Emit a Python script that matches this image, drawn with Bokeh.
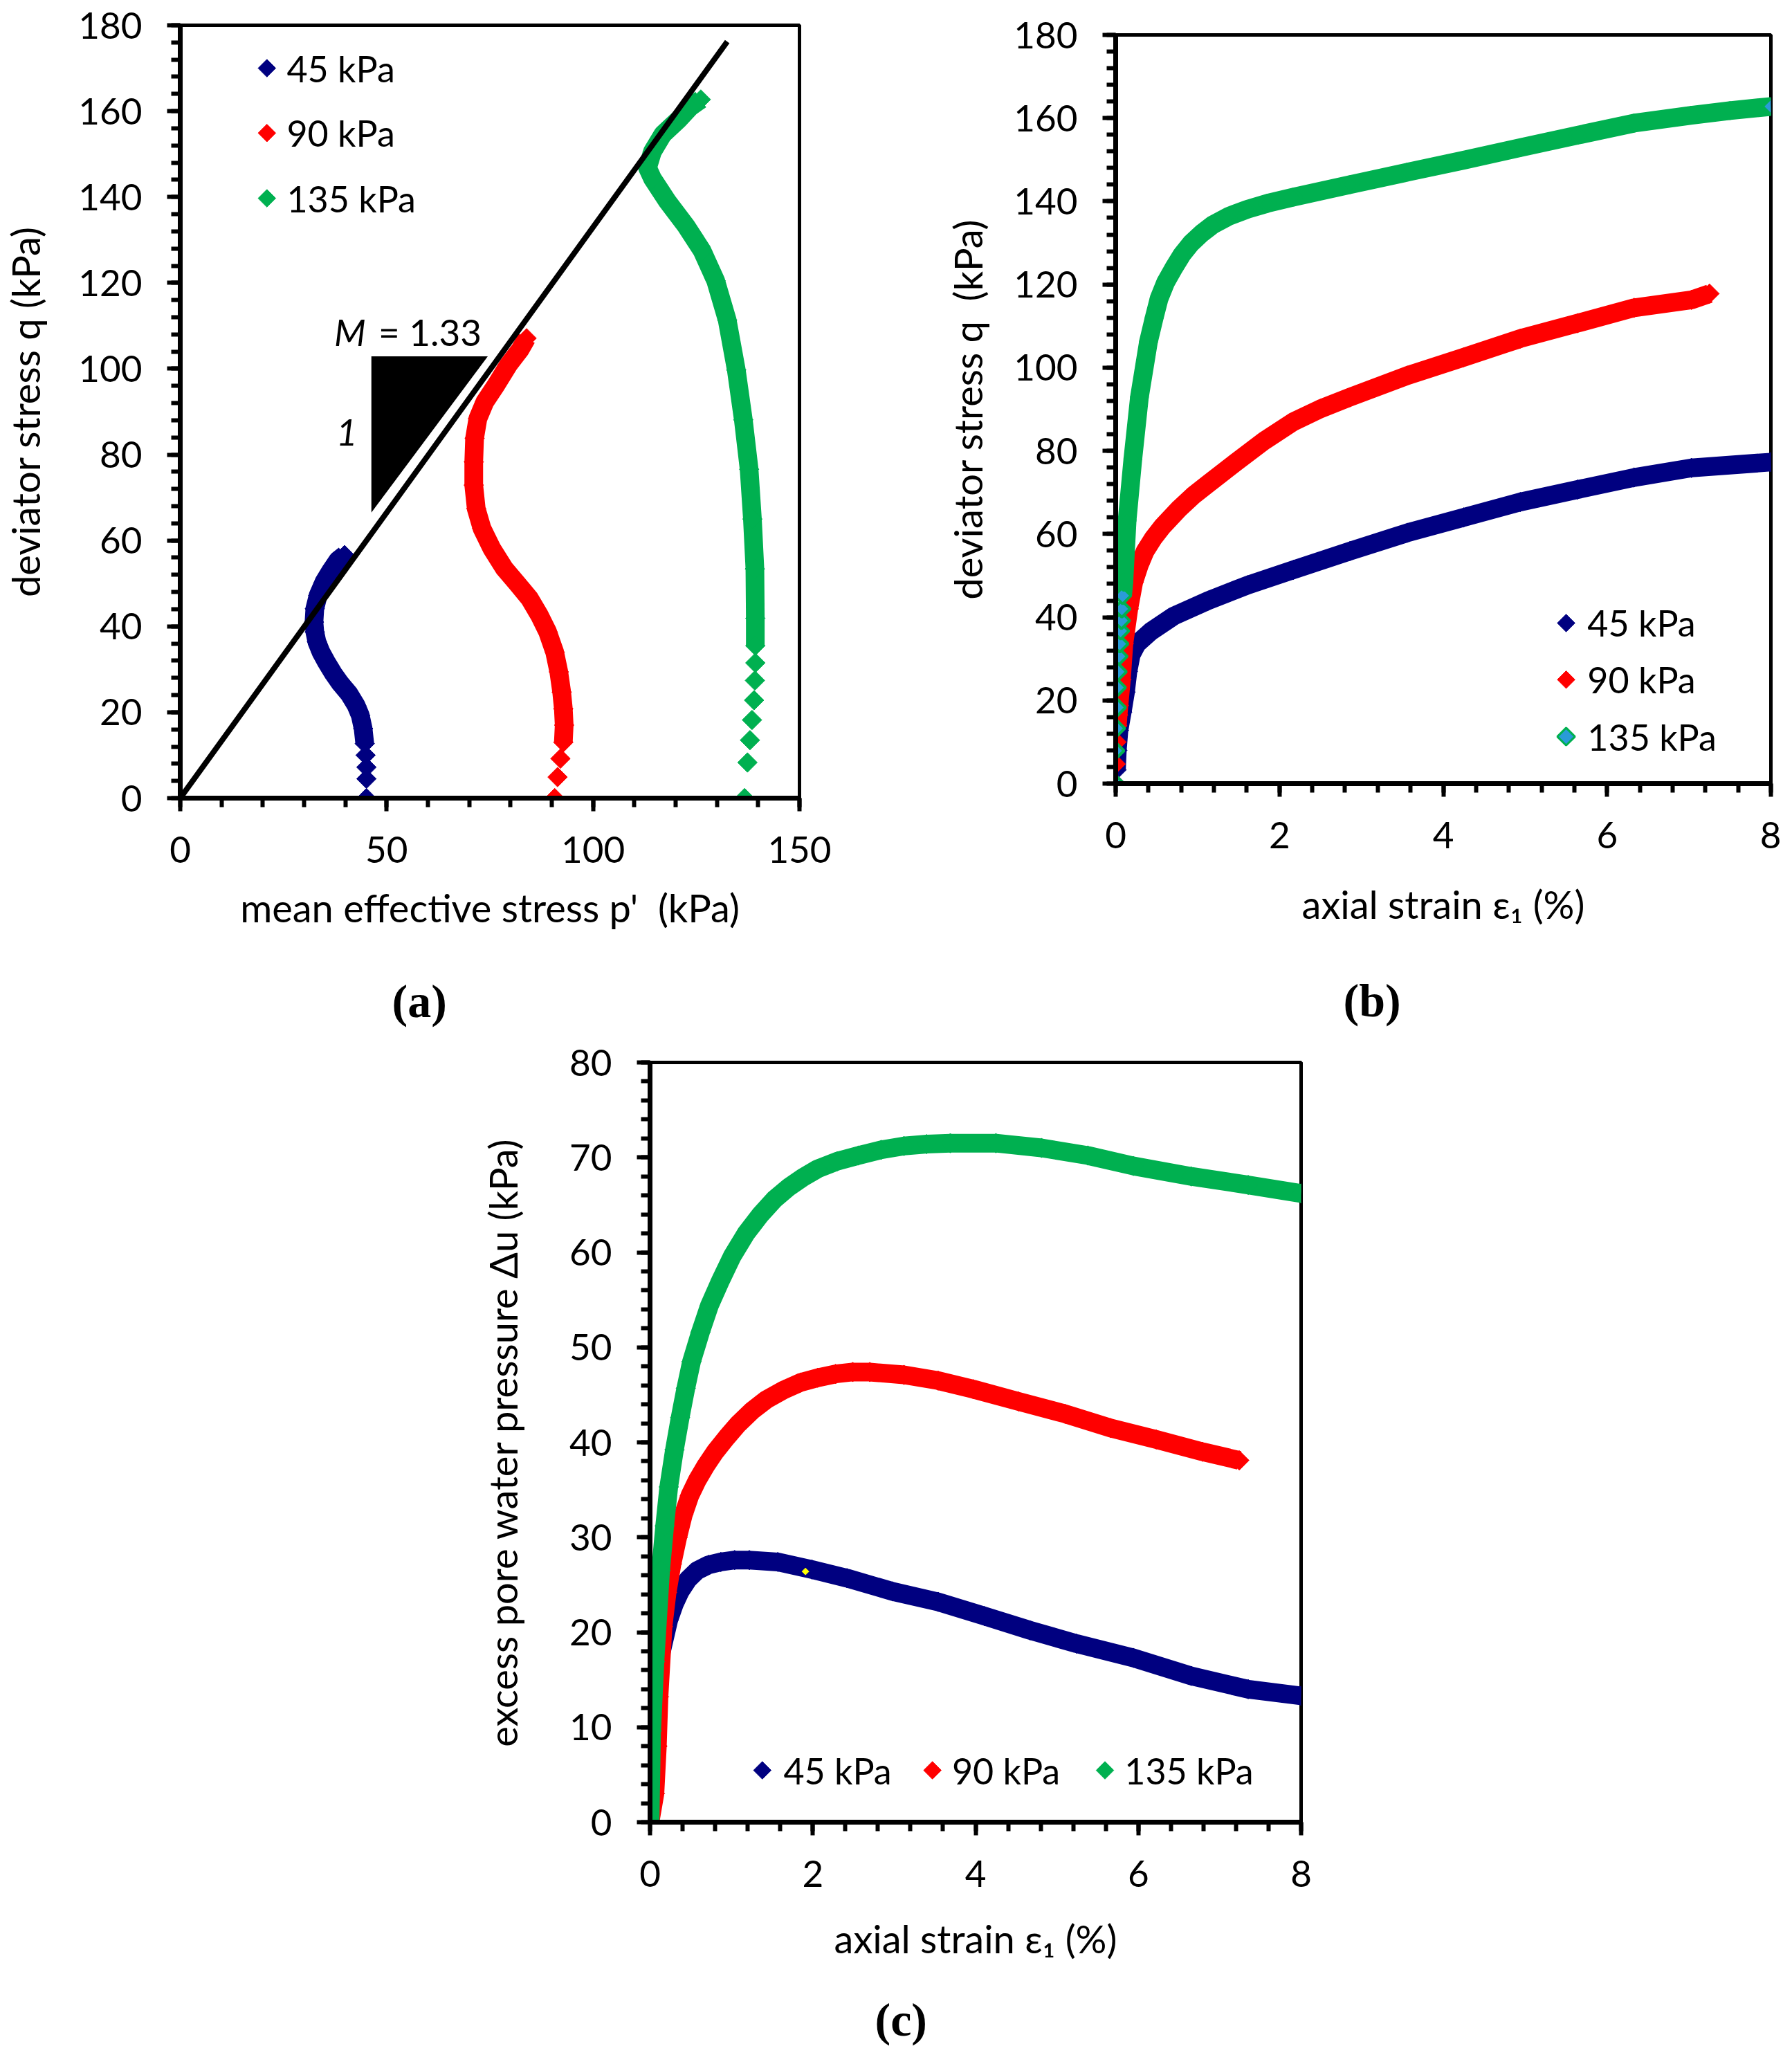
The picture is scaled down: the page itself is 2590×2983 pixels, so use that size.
import math
from bokeh.plotting import figure
from bokeh.models import Range1d, SingleIntervalTicker, Title, ColumnDataSource, Spacer
from bokeh.layouts import column, row
from bokeh.core.properties import value
from bokeh.embed import file_html
from bokeh.resources import INLINE

FONT = "Lato"
NAVY = "#000080"
RED = "#FF0000"
GREEN = "#00B050"
CYAN = "#2A9BD8"

labels = ["45 kPa", "90 kPa", "135 kPa"]

# ---- (a) effective stress paths, p' vs q ----
a45_p = [45.1, 45.1, 45.1, 44.9, 44.7, 44.3, 43.6, 42.6, 40.9, 38.8, 37.1, 35.4, 34.1, 33.1, 32.6, 32.4, 32.6, 33.4, 34.8, 36.5, 38.2, 39.8]
a45_q = [0.0, 4.5, 7.2, 10.0, 12.7, 16.2, 19.3, 21.6, 24.3, 26.7, 29.0, 31.7, 34.0, 36.4, 38.7, 41.0, 44.1, 47.2, 50.3, 53.0, 55.4, 56.6]
a90_p = [90.7, 91.4, 92.1, 92.8, 93.0, 92.8, 92.4, 91.7, 90.7, 89.0, 87.0, 84.6, 81.6, 78.5, 75.5, 73.1, 71.7, 71.1, 71.1, 71.3, 72.1, 73.8, 76.5, 79.5, 82.3, 83.9]
a90_q = [0.0, 4.9, 9.2, 13.0, 17.0, 20.8, 24.7, 29.4, 34.0, 38.7, 42.6, 46.5, 50.0, 53.5, 58.1, 62.8, 67.4, 72.9, 78.3, 83.8, 88.4, 92.3, 96.2, 100.9, 104.4, 107.1]
a135_p = [136.7, 137.4, 138.0, 138.5, 139.0, 139.2, 139.3, 139.3, 139.3, 139.2, 138.6, 137.8, 136.4, 134.7, 132.5, 129.7, 126.4, 122.5, 118.0, 114.4, 113.2, 114.4, 116.9, 120.8, 123.6, 126.1]
a135_q = [0.0, 8.3, 13.5, 18.2, 22.8, 27.4, 31.5, 35.5, 41.9, 53.4, 65.0, 76.6, 88.1, 99.7, 111.3, 120.5, 127.5, 133.3, 139.0, 144.3, 146.8, 150.6, 154.6, 158.1, 161.0, 162.7]
csl_p = [0, 132.5]
csl_q = [0, 176.2]
tri_p = [46.3, 74.5, 46.3]
tri_q = [102.9, 102.9, 66.5]

# ---- (b) deviator stress vs axial strain ----
b45_e = [0.0, 0.01, 0.02, 0.04, 0.08, 0.12, 0.15, 0.19, 0.26, 0.43, 0.71, 1.13, 1.61, 2.17, 2.86, 3.56, 4.25, 4.94, 5.64, 6.33, 7.03, 8.0]
b45_q = [0.0, 3.3, 8.0, 12.8, 17.2, 22.0, 27.0, 31.0, 33.6, 36.6, 40.3, 44.0, 47.7, 51.4, 55.9, 60.3, 64.0, 67.7, 70.7, 73.6, 75.9, 77.3]
b90_e = [0.0, 0.0, 0.01, 0.02, 0.03, 0.04, 0.07, 0.10, 0.16, 0.22, 0.29, 0.36, 0.46, 0.57, 0.78, 0.95, 1.13, 1.47, 1.82, 2.17, 2.5, 2.86, 3.56, 4.25, 4.94, 5.64, 6.33, 7.03, 7.25]
b90_q = [0.0, 4.7, 10.0, 13.9, 16.5, 18.8, 25.0, 33.6, 42.0, 48.4, 52.6, 55.9, 59.0, 61.8, 66.2, 69.3, 72.1, 77.3, 82.5, 87.0, 90.1, 92.9, 98.1, 102.5, 107.0, 110.7, 114.4, 116.3, 117.8]
b135_e = [0.0, 0.0, 0.01, 0.02, 0.02, 0.03, 0.04, 0.05, 0.06, 0.07, 0.075, 0.085, 0.10, 0.14, 0.21, 0.29, 0.40, 0.47, 0.53, 0.61, 0.71, 0.81, 0.92, 1.05, 1.19, 1.38, 1.61, 1.85, 2.17, 2.86, 3.56, 4.25, 4.94, 5.64, 6.33, 7.03, 7.5, 8.0]
b135_q = [0.0, 7.9, 13.3, 18.3, 23.1, 26.9, 30.6, 33.6, 36.7, 39.2, 42.0, 45.2, 48.4, 63.3, 78.1, 92.9, 106.2, 112.0, 116.6, 120.5, 124.0, 127.2, 129.9, 132.3, 134.4, 136.4, 138.1, 139.5, 141.0, 144.0, 147.0, 149.9, 152.9, 155.9, 158.8, 160.7, 161.8, 162.8]

# ---- (c) excess pore water pressure vs axial strain ----
c45_e = [0.0, 0.02, 0.06, 0.13, 0.23, 0.30, 0.37, 0.47, 0.58, 0.72, 0.87, 1.04, 1.22, 1.57, 1.99, 2.42, 2.98, 3.54, 4.11, 4.67, 5.24, 5.94, 6.65, 7.35, 8.0]
c45_u = [0.0, 5.9, 13.2, 17.6, 21.3, 23.0, 24.3, 25.6, 26.5, 27.1, 27.4, 27.6, 27.6, 27.4, 26.6, 25.7, 24.3, 23.2, 21.7, 20.2, 18.8, 17.3, 15.4, 14.0, 13.3]
c90_e = [0.0, 0.06, 0.09, 0.11, 0.16, 0.21, 0.27, 0.34, 0.41, 0.49, 0.58, 0.69, 0.80, 0.94, 1.08, 1.25, 1.43, 1.64, 1.85, 2.06, 2.28, 2.49, 2.70, 3.12, 3.54, 3.97, 4.53, 5.10, 5.66, 6.22, 6.79, 7.24]
c90_u = [0.0, 3.0, 8.0, 13.2, 20.6, 24.2, 27.2, 30.0, 32.4, 34.4, 36.0, 37.6, 39.0, 40.5, 41.9, 43.3, 44.5, 45.5, 46.3, 46.8, 47.2, 47.4, 47.4, 47.1, 46.5, 45.6, 44.3, 43.0, 41.5, 40.3, 39.0, 38.1]
c135_e = [0.0, 0.02, 0.06, 0.13, 0.18, 0.23, 0.30, 0.37, 0.44, 0.51, 0.62, 0.73, 0.87, 1.01, 1.18, 1.36, 1.53, 1.71, 1.88, 2.06, 2.30, 2.56, 2.84, 3.12, 3.40, 3.69, 4.25, 4.81, 5.38, 5.94, 6.65, 7.35, 8.0]
c135_u = [0.0, 9.6, 16.9, 26.5, 31.2, 35.3, 39.2, 42.6, 45.7, 48.5, 51.6, 54.4, 57.1, 59.6, 62.0, 64.0, 65.6, 66.9, 67.9, 68.8, 69.6, 70.2, 70.8, 71.2, 71.4, 71.5, 71.5, 71.0, 70.2, 69.1, 68.0, 67.1, 66.2]
odd_e = [1.91]
odd_u = [26.4]


def make_fig(w, h, left, right, top, bottom, xr, yr, xstep, ystep, xlabel, ylabel, ystand, xstand):
    p = figure(width=w, height=h, output_backend="svg", toolbar_location=None,
               min_border_left=left, min_border_right=right, min_border_top=top, min_border_bottom=bottom,
               x_range=Range1d(*xr), y_range=Range1d(*yr))
    p.xgrid.visible = False
    p.ygrid.visible = False
    p.outline_line_color = "black"
    p.outline_line_width = 5
    p.outline_line_alpha = 1
    p.xaxis.ticker = SingleIntervalTicker(interval=xstep, num_minor_ticks=5)
    p.yaxis.ticker = SingleIntervalTicker(interval=ystep, num_minor_ticks=5)
    p.xaxis.axis_label = xlabel
    p.yaxis.axis_label = ylabel
    p.yaxis.axis_label_standoff = ystand
    p.xaxis.axis_label_standoff = xstand
    for ax in [p.xaxis, p.yaxis]:
        ax.axis_line_width = 7
        ax.axis_line_color = "black"
        ax.major_tick_line_width = 6
        ax.minor_tick_line_width = 6
        ax.major_tick_line_color = "black"
        ax.minor_tick_line_color = "black"
        ax.major_tick_in = 0
        ax.major_tick_out = 19
        ax.minor_tick_in = 0
        ax.minor_tick_out = 13
        ax.major_label_text_font = FONT
        ax.major_label_text_font_size = "53px"
        ax.major_label_text_color = "black"
        ax.major_label_standoff = 36
        ax.axis_label_text_font = FONT
        ax.axis_label_text_font_size = "56px"
        ax.axis_label_text_font_style = "normal"
        ax.axis_label_text_color = "black"
    return p


def band(p, xs, ys, color, n_sparse, fill=None):
    # thick line through the dense run of points, diamonds on every point
    p.line(xs[n_sparse - 1:], ys[n_sparse - 1:], line_color=color, line_width=27, line_join="round")
    if fill is None:
        p.scatter(xs, ys, marker="square", angle=math.pi / 4, size=20,
                  fill_color=color, line_color=color, line_width=1)
    else:
        fc = [fill if (i < n_sparse or i == len(xs) - 1) else color for i in range(len(xs))]
        src = ColumnDataSource(data=dict(x=xs, y=ys, fc=fc))
        p.scatter("x", "y", source=src, marker="square", angle=math.pi / 4, size=17,
                  fill_color="fc", line_color=color, line_width=4)


def legend(p, mx, my, tx, ty, colors, fills):
    for i in range(3):
        p.scatter([mx[i]], [my[i]], marker="square", angle=math.pi / 4, size=18,
                  fill_color=fills[i], line_color=colors[i], line_width=3 if fills[i] != colors[i] else 1)
        p.text([tx[i]], [ty[i]], text=[labels[i]], text_font=value(FONT), text_font_size="52px",
               text_baseline="middle", text_align="left", text_color="black")


def caption(p, txt, offset, gap):
    # blank title as a gap under the axis title, then the panel letter
    p.add_layout(Title(text=" ", standoff=gap, text_font_size="1px"), "below")
    p.add_layout(Title(text=txt, align="left", offset=offset, standoff=0,
                       text_font="Liberation Serif", text_font_style="bold",
                       text_font_size="68px", text_color="black"), "below")


# (a)
fa = make_fig(1300, 1500, 258, 145, 36, 347, (0, 150), (0, 180), 50, 20,
              "mean effective stress p'\u00a0 (kPa)", "deviator stress q (kPa)", 40, 28)
band(fa, a45_p, a45_q, NAVY, 5)
band(fa, a90_p, a90_q, RED, 4)
band(fa, a135_p, a135_q, GREEN, 8)
fa.patch(tri_p, tri_q, fill_color="black", line_color=None)
fa.line(csl_p, csl_q, line_color="black", line_width=8)
fa.text([37.3], [108.6], text=["M"], text_font=value(FONT), text_font_size="53px",
        text_font_style="italic", text_baseline="alphabetic")
fa.text([48.0], [108.6], text=["= 1.33"], text_font=value(FONT), text_font_size="53px",
        text_baseline="alphabetic")
fa.text([37.8], [85.2], text=["1"], text_font=value(FONT), text_font_size="53px",
        text_font_style="italic", text_baseline="alphabetic")
legend(fa, [21.0] * 3, [170.0, 154.9, 139.7], [25.8] * 3, [170.0, 154.9, 139.7],
       [NAVY, RED, GREEN], [NAVY, RED, GREEN])
caption(fa, "(a)", 306, 56)

# (b)
fb = make_fig(1274, 1490, 312, 15, 40, 368, (0, 8), (0, 180), 2, 20,
              "axial strain \u03b5\u2081 (%)", "deviator stress q\u00a0 (kPa)", 30, 44)
band(fb, b45_e, b45_q, NAVY, 2)
band(fb, b90_e, b90_q, RED, 4)
band(fb, b135_e, b135_q, GREEN, 12, fill=CYAN)
legend(fb, [5.5] * 3, [38.6, 25.0, 11.3], [5.76] * 3, [38.6, 25.0, 11.3],
       [NAVY, RED, GREEN], [NAVY, RED, CYAN])
caption(fb, "(b)", 329, 60)

# (c)
fc = make_fig(1392, 1467, 339, 112, 35, 334, (0, 8), (0, 80), 2, 10,
              "axial strain \u03b5\u2081 (%)", "excess pore water pressure \u0394u (kPa)", 60, 38)
band(fc, c45_e, c45_u, NAVY, 1)
band(fc, c90_e, c90_u, RED, 1)
band(fc, c135_e, c135_u, GREEN, 1)
fc.scatter(odd_e, odd_u, marker="square", angle=math.pi / 4, size=7, fill_color="#FFFF00", line_color="#FFFF00")
legend(fc, [1.38, 3.47, 5.59], [5.46] * 3, [1.64, 3.71, 5.83], [5.46] * 3,
       [NAVY, RED, GREEN], [NAVY, RED, GREEN])
caption(fc, "(c)", 325, 38)

top_row = row(column(fa), column(Spacer(width=1274, height=10), fb))
layout = column(top_row, row(Spacer(width=600, height=1467), fc))
open("out.html", "w").write(file_html(layout, INLINE))
